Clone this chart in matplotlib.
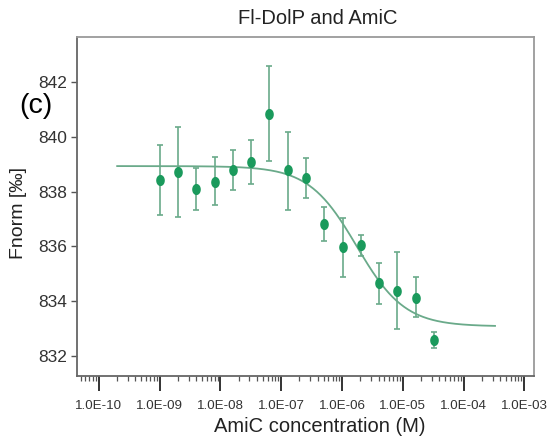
import numpy as np
import matplotlib
matplotlib.use("Agg")
import matplotlib.pyplot as plt
from matplotlib.path import Path
from matplotlib.ticker import LogLocator, FixedLocator, NullFormatter

plt.rcParams['font.family'] = ['Liberation Sans', 'DejaVu Sans']

# ---- data ----
concentration = [1e-9 * 2 ** k for k in range(16)]
fnorm = [838.43, 838.70, 838.10, 838.36, 838.79, 839.08, 840.84, 838.77,
         838.50, 836.83, 835.96, 836.04, 834.65, 834.38, 834.13, 832.57]
err_upper = [839.69, 840.36, 838.87, 839.25, 839.50, 839.89, 842.57, 840.18,
             839.23, 837.45, 837.03, 836.43, 835.40, 835.81, 834.87, 832.88]
err_lower = [837.14, 837.06, 837.33, 837.50, 838.06, 838.28, 839.11, 837.33,
             837.78, 836.21, 834.90, 835.65, 833.90, 832.99, 833.41, 832.29]

# fit parameters (dose-response model)
fit_top = 838.93
fit_bottom = 833.08
fit_ec50 = 1.75e-6
fit_hill = 1.1
fit_range = (2e-10, 3.3e-4)

x_ticks = [1e-10, 1e-9, 1e-8, 1e-7, 1e-6, 1e-5, 1e-4, 1e-3]
x_tick_labels = ['1.0E-10', '1.0E-09', '1.0E-08', '1.0E-07', '1.0E-06',
                 '1.0E-05', '1.0E-04', '1.0E-03']
y_ticks = [832, 834, 836, 838, 840, 842]

title = 'Fl-DolP and AmiC'
xlabel = 'AmiC concentration (M)'
ylabel = 'Fnorm [‰]'
panel = '(c)'

# ---- plot ----
fig = plt.figure(figsize=(5.6, 4.38), dpi=100)
ax = fig.add_axes([77 / 560, 1 - 376 / 438, (534 - 77) / 560, (376 - 37) / 438])

marker_color = '#1a9a5c'
line_color = '#6aaa8a'

# elliptical marker (taller than wide)
t = np.linspace(0, 2 * np.pi, 41)
ellipse = Path(np.column_stack([0.74 * np.cos(t), np.sin(t)]), closed=True)

xs = np.logspace(np.log10(fit_range[0]), np.log10(fit_range[1]), 400)
ys = fit_bottom + (fit_top - fit_bottom) / (1 + (xs / fit_ec50) ** fit_hill)
ax.plot(xs, ys, color=line_color, lw=1.3, zorder=2)

f = np.array(fnorm)
yerr = np.vstack([f - np.array(err_lower), np.array(err_upper) - f])
ax.errorbar(concentration, fnorm, yerr=yerr, fmt='none', ecolor=line_color,
            elinewidth=1.2, capsize=2.3, capthick=1.2, zorder=3)
ax.plot(concentration, fnorm, linestyle='none', marker=ellipse, color=marker_color,
        ms=7.0, mec=marker_color, zorder=4)

ax.set_xscale('log')
ax.set_xlim(10 ** -10.36, 10 ** -2.84)
ax.set_ylim(831.27, 843.64)

ax.xaxis.set_major_locator(FixedLocator(x_ticks))
ax.set_xticklabels(x_tick_labels)
ax.xaxis.set_minor_locator(LogLocator(base=10, subs=np.arange(2, 10), numticks=20))
ax.xaxis.set_minor_formatter(NullFormatter())
ax.set_yticks(y_ticks)
ax.set_yticklabels([str(v) for v in y_ticks])

ax.tick_params(axis='x', which='major', length=11, width=1.4, color='#333333',
               labelsize=9.6, labelcolor='#333333', pad=6)
ax.tick_params(axis='x', which='minor', length=3.5, width=0.9, color='#555555')
ax.tick_params(axis='y', which='major', length=4, width=1.0, color='#555555',
               labelsize=12.5, labelcolor='#333333', pad=3)

for side in ['top', 'right']:
    ax.spines[side].set_color('#9a9a9a')
    ax.spines[side].set_linewidth(1.3)
for side in ['left', 'bottom']:
    ax.spines[side].set_color('#666666')
    ax.spines[side].set_linewidth(1.3)

fig.text(318 / 560, 1 - 18 / 438, title, fontsize=14.5, color='#222222',
         ha='center', va='center')
fig.text(320 / 560, 1 - 427 / 438, xlabel, fontsize=14.5, color='#222222',
         ha='center', va='center')
fig.text(19 / 560, 1 - 213 / 438, ylabel, fontsize=14, color='#222222',
         ha='center', va='center', rotation=90)
fig.text(36 / 560, 1 - 106 / 438, panel, fontsize=20.5, color='black',
         ha='center', va='center')

fig.savefig('out.png', dpi=100)
